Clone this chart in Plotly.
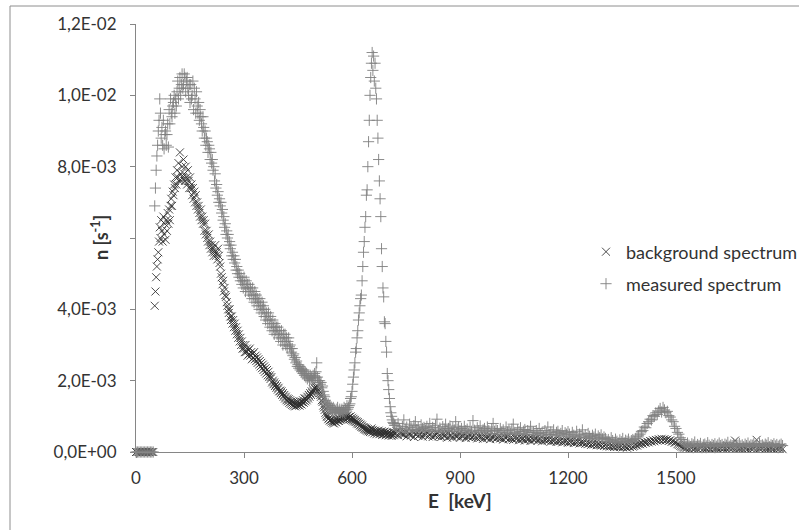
import plotly.graph_objects as go

# Energy channels (keV): 4 keV bins, 2 keV bins from 52 to 718 keV, then 4 keV bins
energy_keV = list(range(0, 52, 4)) + list(range(52, 720, 2)) + list(range(720, 1800, 4))

# Count rates, in units of 1e-3 s^-1
background_e3 = (
    [0] * 13 +
    # 52 .. 718 keV, 2 keV bins
    [4.1, 4.5, 4.9, 5.2, 5.4, 5.6, 5.9, 6.3, 6.0, 6.5,
     6.2, 5.9, 6.6, 6.1, 6.4, 5.95, 6.5, 6.2, 6.7, 6.4,
     6.8, 6.5, 6.9, 7.1, 6.9, 7.3, 7.2, 7.5, 7.4, 7.7,
     7.5, 7.9, 7.7, 8.1, 7.6, 8.4, 7.8, 7.6, 8.0, 7.7,
     8.2, 7.8, 7.6, 8.0, 7.7, 7.5, 7.9, 7.6, 7.4, 7.7,
     7.4, 7.5, 7.2, 7.4, 7.1, 7.3, 7.0, 7.2, 6.9, 7.0,
     6.8, 6.9, 6.7, 6.6, 6.8, 6.5, 6.6, 6.4, 6.5, 6.2,
     6.4, 6.1, 6.2, 6.0, 5.9, 6.1, 5.8, 5.9, 5.7, 5.8,
     5.6, 5.7, 5.5, 5.6, 5.8, 5.5, 5.6, 5.4, 5.7, 5.5,
     5.3, 5.2, 5.0, 4.9, 4.7, 4.8, 4.5, 4.6, 4.4, 4.35,
     4.2, 4.1, 4.0, 3.9, 4.0, 3.8, 3.7, 3.8, 3.6, 3.7,
     3.5, 3.6, 3.4, 3.5, 3.3, 3.4, 3.2, 3.3, 3.1, 3.2,
     3.0, 3.1, 2.9, 3.0, 2.9, 2.8, 3.0, 2.8, 2.9, 2.7,
     2.85, 2.75, 2.9, 2.7, 2.8, 2.6, 2.75, 2.65, 2.8, 2.6,
     2.7, 2.55, 2.65, 2.5, 2.6, 2.45, 2.55, 2.4, 2.5, 2.35,
     2.45, 2.3, 2.4, 2.25, 2.35, 2.2, 2.3, 2.15, 2.25, 2.1,
     2.15, 2.05, 2.1, 1.95, 2.0, 1.9, 1.95, 1.85, 1.9, 1.8,
     1.85, 1.75, 1.8, 1.7, 1.72, 1.65, 1.7, 1.6, 1.65, 1.55,
     1.6, 1.5, 1.55, 1.45, 1.5, 1.42, 1.48, 1.38, 1.45, 1.35,
     1.42, 1.32, 1.4, 1.3, 1.38, 1.28, 1.36, 1.3, 1.4, 1.32,
     1.38, 1.3, 1.35, 1.42, 1.33, 1.4, 1.45, 1.38, 1.5, 1.42,
     1.5, 1.45, 1.55, 1.5, 1.6, 1.55, 1.65, 1.6, 1.7, 1.65,
     1.75, 1.7, 1.8, 1.76, 1.83, 1.8, 1.84, 1.75, 1.72, 1.65,
     1.6, 1.55, 1.45, 1.4, 1.3, 1.25, 1.18, 1.1, 1.05, 1.0,
     0.98, 0.92, 0.95, 0.88, 0.9, 0.85, 0.92, 0.82, 0.88, 0.8,
     0.86, 0.9, 0.83, 0.92, 0.88, 0.95, 0.87, 0.93, 0.9, 0.97,
     0.92, 1.0, 0.95, 1.02, 0.93, 0.98, 1.0, 0.94, 1.02, 0.96,
     0.98, 0.92, 1.0, 0.9, 0.96, 0.88, 0.93, 0.86, 0.9, 0.84,
     0.86, 0.8, 0.84, 0.78, 0.8, 0.74, 0.77, 0.7, 0.74, 0.68,
     0.7, 0.64, 0.68, 0.62, 0.66, 0.6, 0.64, 0.58, 0.62, 0.56,
     0.6, 0.66, 0.55, 0.62, 0.58, 0.52, 0.6, 0.56, 0.5, 0.58,
     0.54, 0.6, 0.5, 0.56, 0.52, 0.58, 0.48, 0.55, 0.5, 0.57,
     0.52, 0.47, 0.55, 0.5, 0.53, 0.46, 0.54, 0.49, 0.52, 0.45,
     0.5, 0.55, 0.47, 0.52] +
    # 720 .. 1796 keV, 4 keV bins
    [0.54, 0.58, 0.47, 0.55, 0.52, 0.5] +
    [0.48, 0.55, 0.44, 0.52, 0.5, 0.46, 0.56, 0.42, 0.5, 0.53,
     0.45, 0.49, 0.52, 0.43, 0.5, 0.47, 0.54, 0.44, 0.48, 0.51,
     0.42, 0.49, 0.46, 0.53, 0.44] +
    [0.47, 0.42, 0.5, 0.45, 0.48, 0.4, 0.52, 0.44, 0.47, 0.41,
     0.49, 0.45, 0.43, 0.5, 0.4, 0.46, 0.44, 0.48, 0.39, 0.45,
     0.42, 0.47, 0.4, 0.44, 0.46] +
    [0.42, 0.38, 0.45, 0.4, 0.43, 0.37, 0.46, 0.41, 0.39, 0.44,
     0.36, 0.42, 0.4, 0.45, 0.37, 0.41, 0.43, 0.38, 0.4, 0.35,
     0.42, 0.39, 0.44, 0.36, 0.4] +
    [0.38, 0.34, 0.41, 0.37, 0.39, 0.33, 0.4, 0.36, 0.38, 0.32,
     0.4, 0.35, 0.37, 0.31, 0.39, 0.34, 0.36, 0.38, 0.32, 0.35,
     0.37, 0.3, 0.36, 0.33, 0.35] +
    [0.32, 0.35, 0.29, 0.33, 0.31, 0.34, 0.28, 0.32, 0.3, 0.33,
     0.27, 0.31, 0.29, 0.32, 0.26, 0.3, 0.28, 0.31, 0.25, 0.29,
     0.27, 0.3, 0.24, 0.28, 0.26] +
    [0.27, 0.23, 0.26, 0.22, 0.25, 0.2, 0.24, 0.21, 0.23, 0.19,
     0.22, 0.2, 0.18, 0.21, 0.17, 0.2, 0.16, 0.19, 0.15, 0.18,
     0.16, 0.14, 0.17, 0.15, 0.16] +
    [0.14, 0.17, 0.13, 0.16, 0.15, 0.12, 0.16, 0.14, 0.18, 0.15,
     0.17, 0.2, 0.18, 0.22] +
    [0.22, 0.25, 0.23, 0.27, 0.26, 0.29, 0.27, 0.31, 0.29, 0.33,
     0.3, 0.34, 0.32, 0.36, 0.33, 0.37, 0.34, 0.36, 0.33, 0.35,
     0.31, 0.33, 0.29, 0.3, 0.26, 0.27, 0.22, 0.2, 0.17, 0.15,
     0.13] +
    [0.12, 0.1, 0.14, 0.09, 0.13, 0.11, 0.15, 0.1, 0.12, 0.08,
     0.13, 0.11, 0.14, 0.09, 0.12, 0.1, 0.13, 0.11, 0.08, 0.12,
     0.14, 0.1, 0.11, 0.09, 0.13,
     0.11, 0.14, 0.1, 0.12, 0.09, 0.13, 0.11, 0.15, 0.1, 0.12,
     0.32, 0.11, 0.13, 0.09, 0.12, 0.1, 0.14, 0.11, 0.12, 0.09,
     0.13, 0.1, 0.12, 0.11, 0.14,
     0.34, 0.12, 0.1, 0.13, 0.11, 0.14, 0.09, 0.12, 0.1, 0.13,
     0.11, 0.12, 0.09, 0.14, 0.1, 0.12, 0.11, 0.13, 0.08]
)

measured_e3 = (
    [0] * 13 +
    # 52 .. 718 keV, 2 keV bins
    [6.9, 7.4, 7.9, 8.3, 8.6, 9.0, 9.3, 9.9, 9.5, 8.8,
     9.1, 8.6, 9.3, 8.5, 8.9, 9.0, 8.6, 8.9, 9.2, 8.55,
     9.6, 9.2, 9.9, 9.5, 9.4, 9.7, 9.8, 10.0, 9.5, 9.9,
     9.7, 10.1, 10.4, 9.9, 10.2, 10.5, 10.0, 10.3, 10.6, 10.2,
     10.3, 10.6, 10.5, 10.1, 10.4, 10.5, 10.2, 10.0, 10.3, 9.8,
     10.3, 9.9, 10.0, 10.4, 9.6, 10.2, 9.9, 9.5, 10.1, 9.7,
     9.5, 9.8, 9.3, 9.6, 9.4, 9.2, 9.0, 9.4, 9.1, 8.8,
     9.0, 8.6, 8.8, 8.7, 8.4, 8.6, 8.5, 8.2, 8.4, 8.1,
     8.2, 7.9, 8.0, 7.6, 7.8, 7.4, 7.5, 7.2, 7.3, 7.0,
     7.1, 6.9, 7.0, 6.7, 6.8, 6.5, 6.6, 6.3, 6.4, 6.1,
     6.2, 6.0, 6.1, 5.8, 5.9, 5.7, 5.8, 5.5, 5.6, 5.4,
     5.5, 5.3, 5.4, 5.1, 5.2, 5.0, 5.1, 4.9, 5.0, 4.8,
     4.9, 4.7, 4.8, 4.6, 4.9, 4.7, 4.5, 4.8, 4.6, 4.7,
     4.5, 4.7, 4.4, 4.6, 4.5, 4.3, 4.6, 4.4, 4.2, 4.5,
     4.3, 4.4, 4.1, 4.3, 4.2, 4.0, 4.3, 4.1, 3.9, 4.2,
     4.0, 4.1, 3.8, 4.0, 3.7, 3.9, 3.8, 3.6, 3.9, 3.7,
     3.5, 3.8, 3.6, 3.4, 3.7, 3.5, 3.3, 3.6, 3.4, 3.5,
     3.3, 3.5, 3.2, 3.4, 3.3, 3.1, 3.4, 3.2, 3.0, 3.3,
     3.1, 3.3, 3.0, 3.2, 2.9, 3.1, 3.2, 2.95, 3.0, 2.9,
     2.8, 2.9, 2.7, 2.75, 2.6, 2.65, 2.5, 2.55, 2.4, 2.45,
     2.35, 2.4, 2.3, 2.35, 2.25, 2.3, 2.2, 2.3, 2.15, 2.25,
     2.1, 2.2, 2.05, 2.15, 2.1, 2.0, 2.15, 2.05, 2.1, 2.0,
     2.15, 2.05, 2.2, 2.1, 2.25, 2.5, 2.1, 2.0, 1.95, 2.0,
     1.9, 1.95, 1.8, 1.85, 1.7, 1.6, 1.55, 1.45, 1.4, 1.35,
     1.3, 1.35, 1.25, 1.3, 1.2, 1.25, 1.15, 1.2, 1.25, 1.1,
     1.2, 1.15, 1.1, 1.2, 1.25, 1.1, 1.15, 1.2, 1.1, 1.15,
     1.2, 1.1, 1.15, 1.25, 1.1, 1.2, 1.15, 1.3, 1.2, 1.25,
     1.3, 1.35, 1.5, 1.55, 1.7, 1.9, 2.1, 2.3, 2.5, 2.8,
     2.9, 3.2, 3.4, 3.7, 3.9, 4.1, 4.3, 4.4, 4.8, 5.2,
     5.6, 5.9, 6.3, 6.6, 7.2, 7.35, 8.0, 8.7, 9.3, 10.0,
     10.5, 10.9, 11.2, 10.7, 11.1, 10.4, 10.9, 10.2, 9.9, 9.3,
     8.8, 8.2, 7.6, 7.1, 6.6, 5.7, 5.2, 4.6, 4.35, 3.65,
     3.6, 3.1, 2.8, 2.2, 2.0, 1.75, 1.5, 1.27, 1.1, 1.0,
     0.9, 0.83, 0.8, 0.75] +
    # 720 .. 1796 keV, 4 keV bins
    [0.75, 0.62, 0.8, 0.66, 0.58, 0.72, 0.9, 0.64, 0.7, 0.55,
     0.78, 0.68, 0.6, 0.74, 0.85, 0.63, 0.7, 0.57, 0.76, 0.66,
     0.69] +
    [0.6, 0.72, 0.64, 0.8, 0.58, 0.69, 0.62, 0.75, 0.92, 0.6,
     0.67, 0.55, 0.71, 0.64, 0.78, 0.6, 0.66, 0.73, 0.57, 0.68,
     0.62, 0.85, 0.64, 0.7, 0.59] +
    [0.66, 0.55, 0.72, 0.6, 0.64, 0.52, 0.7, 0.58, 0.88, 0.61,
     0.56, 0.68, 0.6, 0.73, 0.54, 0.62, 0.66, 0.57, 0.7, 0.6,
     0.52, 0.65, 0.8, 0.58, 0.62] +
    [0.6, 0.5, 0.66, 0.55, 0.62, 0.48, 0.7, 0.56, 0.6, 0.52,
     0.64, 0.78, 0.55, 0.5, 0.62, 0.57, 0.68, 0.52, 0.58, 0.63,
     0.49, 0.6, 0.55, 0.72, 0.54] +
    [0.56, 0.48, 0.6, 0.52, 0.66, 0.5, 0.55, 0.45, 0.6, 0.53,
     0.7, 0.49, 0.56, 0.5, 0.62, 0.47, 0.55, 0.58, 0.48, 0.52,
     0.6, 0.45, 0.54, 0.5, 0.57] +
    [0.5, 0.42, 0.55, 0.47, 0.44, 0.58, 0.4, 0.5, 0.45, 0.62,
     0.42, 0.48, 0.4, 0.52, 0.44, 0.38, 0.47, 0.42, 0.5, 0.36,
     0.45, 0.4, 0.48, 0.37, 0.42] +
    [0.38, 0.3, 0.35, 0.28, 0.4, 0.32, 0.27, 0.36, 0.3, 0.25,
     0.34, 0.29, 0.38, 0.26, 0.33, 0.3, 0.36, 0.28, 0.32, 0.35,
     0.3, 0.38, 0.42, 0.45] +
    [0.5, 0.58, 0.6, 0.7, 0.68, 0.8, 0.85, 0.92, 0.9, 1.02,
     1.0, 1.1, 1.05, 1.15, 1.22, 1.12, 1.25, 1.18, 1.1, 1.14,
     1.02, 0.98, 0.9, 0.85, 0.72, 0.66, 0.55, 0.5, 0.4, 0.35,
     0.28] +
    [0.22, 0.17, 0.25, 0.19, 0.15, 0.23, 0.2, 0.28, 0.16, 0.21,
     0.18, 0.24, 0.14, 0.2, 0.22, 0.17, 0.26, 0.19, 0.15, 0.21,
     0.18, 0.23, 0.16, 0.2, 0.25,
     0.18, 0.21, 0.15, 0.22, 0.19, 0.27, 0.16, 0.2, 0.18, 0.23,
     0.14, 0.21, 0.19, 0.24, 0.17, 0.2, 0.15, 0.22, 0.18, 0.25,
     0.16, 0.2, 0.19, 0.23, 0.17,
     0.21, 0.15, 0.24, 0.18, 0.2, 0.16, 0.22, 0.19, 0.26, 0.15,
     0.2, 0.18, 0.23, 0.17, 0.21, 0.16, 0.19, 0.22, 0.18]
)

series_names = ["background spectrum", "measured spectrum"]
x_tick_vals = [0, 300, 600, 900, 1200, 1500]
x_tick_text = ["0", "300", "600", "900", "1200", "1500"]
y_tick_vals = [0, 0.002, 0.004, 0.006, 0.008, 0.010, 0.012]
# the 6,0E-03 label is hidden behind the axis title in the original
y_tick_text = ["0,0E+00", "2,0E-03", "4,0E-03", "", "8,0E-03", "1,0E-02", "1,2E-02"]

background = [v * 1e-3 for v in background_e3]
measured = [v * 1e-3 for v in measured_e3]

FONT = "Lato, 'Open Sans', sans-serif"
TXT = "#333333"
AX = "#868686"
BG_COL = "rgba(45,45,45,0.85)"
MS_COL = "rgba(128,128,128,0.9)"

fig = go.Figure()
fig.add_trace(go.Scatter(
    x=energy_keV, y=background, mode="markers", name=series_names[0],
    marker=dict(symbol="x-thin-open", size=8, line=dict(width=1, color=BG_COL), color=BG_COL),
    cliponaxis=False, legend="legend",
))
fig.add_trace(go.Scatter(
    x=energy_keV, y=measured, mode="markers", name=series_names[1],
    marker=dict(symbol="cross-thin-open", size=8, line=dict(width=1, color=MS_COL), color=MS_COL),
    cliponaxis=False, legend="legend2",
))

W, H = 799, 530
L, R, T, B = 136, 15, 24, 78
pw, ph = W - L - R, H - T - B


def px(x):
    return (x - L) / pw


def py(y):
    return (H - B - y) / ph


fig.update_layout(
    width=W, height=H,
    margin=dict(l=L, r=R, t=T, b=B, autoexpand=False),
    paper_bgcolor="white", plot_bgcolor="white",
    font=dict(family=FONT, size=17, color=TXT),
    showlegend=True,
    legend=dict(x=px(586), y=py(252), xanchor="left", yanchor="middle", visible=True,
                bgcolor="rgba(0,0,0,0)", font=dict(size=18, color=TXT), itemwidth=30),
    legend2=dict(x=px(586), y=py(284), xanchor="left", yanchor="middle", visible=True,
                 bgcolor="rgba(0,0,0,0)", font=dict(size=18, color=TXT), itemwidth=30),
    xaxis=dict(
        range=[0, 1800], showgrid=False, zeroline=False,
        showline=True, linecolor=AX, linewidth=1,
        ticks="outside", ticklen=5, tickcolor=AX,
        tickvals=x_tick_vals, ticktext=x_tick_text,
        tickfont=dict(size=17, color=TXT), ticklabelstandoff=6,
        automargin=False,
    ),
    yaxis=dict(
        range=[0, 0.012], showgrid=False, zeroline=False,
        showline=True, linecolor=AX, linewidth=1,
        ticks="outside", ticklen=5, tickcolor=AX,
        tickvals=y_tick_vals, ticktext=y_tick_text,
        tickfont=dict(size=17, color=TXT), ticklabelstandoff=10,
        automargin=False,
    ),
    annotations=[
        dict(text="<b>E&nbsp; [keV]</b>", xref="paper", yref="paper", x=0.5, y=py(500),
             xanchor="center", yanchor="middle", showarrow=False,
             font=dict(size=19, color=TXT)),
        dict(text="<b>n [s<sup>-1</sup>]</b>", xref="paper", yref="paper", x=px(100), y=py(238),
             xanchor="center", yanchor="middle", showarrow=False, textangle=-90,
             font=dict(size=18, color=TXT)),
    ],
    shapes=[dict(type="rect", xref="paper", yref="paper",
                 x0=px(10), x1=px(812), y0=py(545), y1=py(6),
                 line=dict(color="#8e8e8e", width=1), fillcolor="rgba(0,0,0,0)", layer="below")],
)

fig.write_html("out.html", config={"displayModeBar": False},
               post_script="document.body.style.margin='0';")
